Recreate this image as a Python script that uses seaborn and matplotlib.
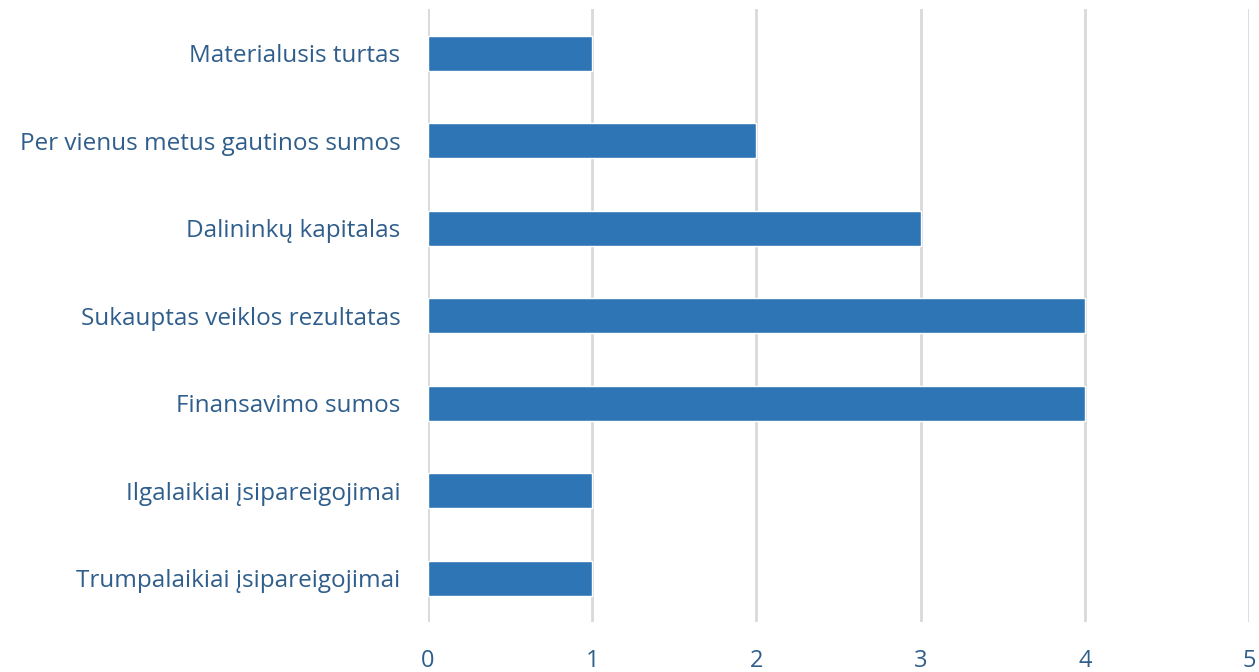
import seaborn as sns
import pandas as pd
import matplotlib.pyplot as plt

categories = [
    "Materialusis turtas",
    "Per vienus metus gautinos sumos",
    "Dalininkų kapitalas",
    "Sukauptas veiklos rezultatas",
    "Finansavimo sumos",
    "Ilgalaikiai įsipareigojimai",
    "Trumpalaikiai įsipareigojimai",
]
values = [1, 2, 3, 4, 4, 1, 1]
x_ticks = [0, 1, 2, 3, 4, 5]

df = pd.DataFrame({"category": categories, "value": values})

sns.set_style("white")
plt.rcParams["font.family"] = ["Open Sans", "DejaVu Sans"]

text_color = "#2F5E8C"

fig = plt.figure(figsize=(12.59, 6.72), dpi=100)
ax = fig.add_axes([0.34, 0.074, 0.652, 0.912])

sns.barplot(data=df, x="value", y="category", color="#2E75B6",
            width=0.4, saturation=1, ax=ax, zorder=3)

ax.set_xlim(0, 5)
ax.set_xticks(x_ticks)
ax.set_xlabel("")
ax.set_ylabel("")
ax.grid(axis="x", color="#D9D9D9", linewidth=2, zorder=0)
for s in ax.spines.values():
    s.set_visible(False)
ax.tick_params(axis="y", length=0, pad=20, labelsize=17.5, labelcolor=text_color)
ax.tick_params(axis="x", length=0, pad=19, labelsize=17, labelcolor=text_color)

fig.savefig("out.png", dpi=100)
